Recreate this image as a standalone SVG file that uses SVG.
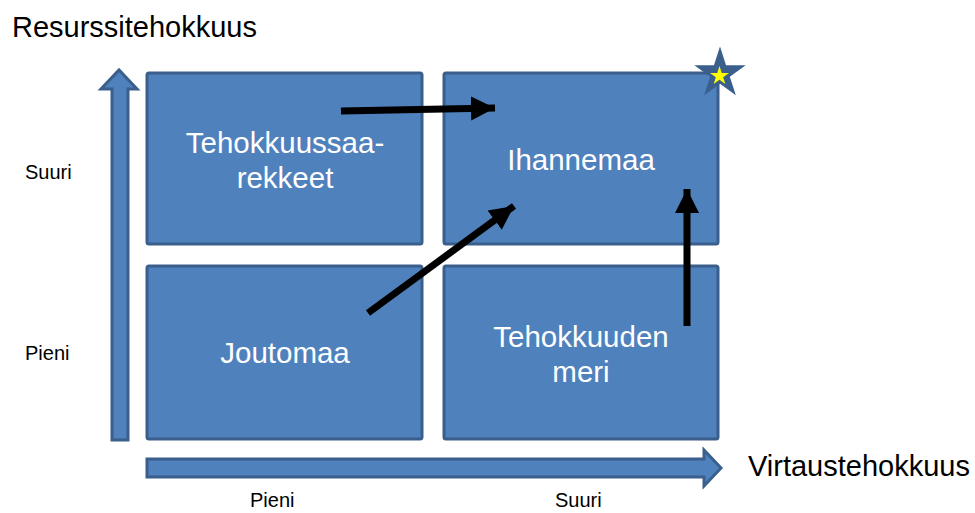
<svg xmlns="http://www.w3.org/2000/svg" width="975" height="513" viewBox="0 0 975 513">
  <style>
    .cell { fill: #4f81bd; stroke: #3a5f8c; stroke-width: 3; }
    .axis { fill: #4f81bd; stroke: #3a5f8c; stroke-width: 3; stroke-linejoin: miter; }
    .cell-text { font-family: "Liberation Sans", Arial, sans-serif; font-size: 29.5px; fill: #ffffff; text-anchor: middle; }
    .title { font-family: "Liberation Sans", Arial, sans-serif; font-size: 29px; fill: #000000; }
    .tick { font-family: "Liberation Sans", Arial, sans-serif; font-size: 20px; fill: #000000; }
    .move { stroke: #000000; stroke-width: 7; fill: none; marker-end: url(#head); }
  </style>
  <defs>
    <marker id="head" markerUnits="userSpaceOnUse" markerWidth="26" markerHeight="26" viewBox="0 0 26 26" refX="24" refY="13" orient="auto">
      <polygon points="0,1 24,13 0,25" fill="#000000"/>
    </marker>
    <polygon id="star5" points="0,-1 0.2245,-0.309 0.951,-0.309 0.3633,0.118 0.5878,0.809 0,0.382 -0.5878,0.809 -0.3633,0.118 -0.951,-0.309 -0.2245,-0.309"/>
  </defs>

  <!-- axis titles -->
  <text class="title" x="12" y="37">Resurssitehokkuus</text>
  <text class="title" x="748" y="476">Virtaustehokkuus</text>

  <!-- axis tick labels -->
  <text class="tick" x="25" y="179">Suuri</text>
  <text class="tick" x="25" y="360">Pieni</text>
  <text class="tick" x="250" y="507">Pieni</text>
  <text class="tick" x="555" y="507">Suuri</text>

  <!-- axis arrows -->
  <g id="y-axis">
    <polygon class="axis" points="112,440 112,89 101,89 119,70 137,89 128,89 128,440"/>
  </g>
  <g id="x-axis">
    <polygon class="axis" points="147,459 704,459 704,450 721,468 704,486 704,477 147,477"/>
  </g>

  <!-- quadrants -->
  <g id="tehokkuussaarekkeet">
    <rect class="cell" x="147" y="73" width="275" height="171" rx="2"/>
    <text class="cell-text" x="285" y="153">Tehokkuussaa-</text>
    <text class="cell-text" x="285" y="188">rekkeet</text>
  </g>
  <g id="ihannemaa">
    <rect class="cell" x="444" y="73" width="274" height="171" rx="2"/>
    <text class="cell-text" x="581" y="170">Ihannemaa</text>
  </g>
  <g id="joutomaa">
    <rect class="cell" x="147" y="266" width="275" height="173" rx="2"/>
    <text class="cell-text" x="285" y="363">Joutomaa</text>
  </g>
  <g id="tehokkuuden-meri">
    <rect class="cell" x="444" y="266" width="274" height="173" rx="2"/>
    <text class="cell-text" x="581" y="347">Tehokkuuden</text>
    <text class="cell-text" x="581" y="382">meri</text>
  </g>

  <!-- goal star -->
  <g id="star">
    <use href="#star5" transform="translate(720,73.5) scale(27)" fill="#3a5f8c"/>
    <use href="#star5" transform="translate(719.5,76) scale(10)" fill="#ffff00"/>
  </g>

  <!-- movement arrows -->
  <g id="connectors">
    <line class="move" x1="341" y1="111" x2="495" y2="108"/>
    <line class="move" x1="368" y1="313" x2="514" y2="206"/>
    <line class="move" x1="687" y1="326" x2="687" y2="189"/>
  </g>
</svg>
